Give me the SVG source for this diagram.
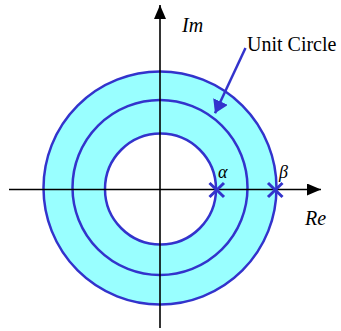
<svg xmlns="http://www.w3.org/2000/svg" width="341" height="331" viewBox="0 0 341 331">
<defs>
<marker id="axhead" markerUnits="userSpaceOnUse" markerWidth="14" markerHeight="12" refX="14" refY="6" orient="auto"><path d="M0,0 L14,6 L0,12 z" fill="#000"/></marker>
<marker id="bluehead" markerUnits="userSpaceOnUse" markerWidth="13" markerHeight="16" refX="13" refY="8" orient="auto"><path d="M0,0 L13,8 L0,16 z" fill="#3333CC"/></marker>
</defs>
<style>
.ring{fill:none;stroke:#3333CC;stroke-width:2.5}
.axis{stroke:#000;stroke-width:1.6;fill:none}
.cross{stroke:#3333CC;stroke-width:3;fill:none}
text{fill:#000;font-family:'Liberation Serif','Times New Roman','Tinos','Noto Serif','DejaVu Serif','FreeSerif','Nimbus Roman',serif}
</style>
<g id="region">
<circle cx="160" cy="188" r="116.5" fill="#99FFFF" stroke="#3333CC" stroke-width="2.5"/>
<circle cx="160" cy="187.5" r="87.5" class="ring"/>
<circle cx="160.5" cy="189" r="55.5" fill="#FFFFFF" stroke="#3333CC" stroke-width="2.5"/>
</g>
<g id="connectors">
<line class="axis" x1="9" y1="189.5" x2="321" y2="189.5" marker-end="url(#axhead)"/>
<line class="axis" x1="160" y1="328" x2="160" y2="5" marker-end="url(#axhead)"/>
<line x1="245.5" y1="48" x2="215" y2="113.3" stroke="#3333CC" stroke-width="2.5" marker-end="url(#bluehead)"/>
</g>
<g id="alpha">
<path class="cross" d="M209.5,183 L224,197 M224,183 L209.5,197"/>
<text x="218" y="178" font-size="18" font-style="italic">α</text>
</g>
<g id="beta">
<path class="cross" d="M268,183 L282.5,197 M282.5,183 L268,197"/>
<text x="279" y="178" font-size="18" font-style="italic">β</text>
</g>
<g id="labels">
<text x="182" y="31.5" font-size="20" font-style="italic">Im</text>
<text x="305" y="225" font-size="20" font-style="italic">Re</text>
<text x="247" y="51" font-size="20">Unit Circle</text>
</g>
</svg>
